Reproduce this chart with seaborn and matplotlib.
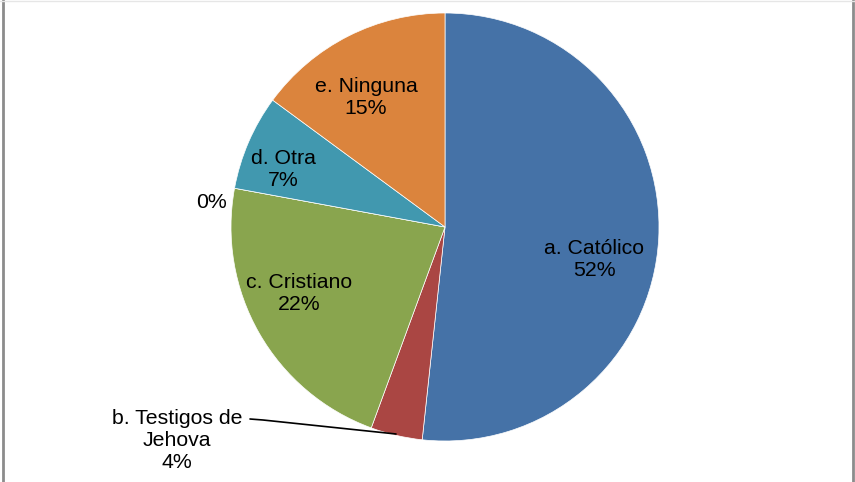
import matplotlib
matplotlib.use("Agg")
import matplotlib.pyplot as plt
import seaborn as sns

sns.set_theme(style="white")
plt.rcParams['font.family'] = ['Liberation Sans', 'DejaVu Sans']

categories = ["a. Católico", "b. Testigos de\nJehova", "c. Cristiano", "", "d. Otra", "e. Ninguna"]
values = [51.7, 3.9, 22.3, 0, 7.2, 14.9]
pct_labels = ["52%", "4%", "22%", "0%", "7%", "15%"]
colors = ["#4572A7", "#AA4643", "#89A54E", "#7F6084", "#4198AF", "#DB843D"]

W, H = 855, 482
fig = plt.figure(figsize=(W / 100, H / 100), dpi=100)
ax = fig.add_axes([0, 0, 1, 1])

cx, cy, r = 445, 227, 214
# y axis inverted -> counterclockwise in data space equals clockwise on screen
ax.pie(values, colors=colors, startangle=-90, counterclock=True,
       center=(cx, cy), radius=r, frame=True,
       wedgeprops=dict(edgecolor="white", linewidth=0.5))
ax.set_xlim(0, W)
ax.set_ylim(H, 0)
ax.set_aspect("equal")
ax.axis("off")

fs = 15.3
label_pos = [(594, 259), (177, 441), (299, 294), (211, 203), (283, 170), (366, 98)]
for cat, pct, (x, y) in zip(categories, pct_labels, label_pos):
    txt = f"{cat}\n{pct}" if cat else pct
    ax.text(x, y, txt, ha="center", va="center", fontsize=fs,
            color="black", linespacing=1.2)

ax.plot([250, 263, 396], [419, 420, 434], color="black", linewidth=1.2)

# frame
ax.plot([2.5, 2.5], [0, H], color="#8c8c8c", linewidth=2)
ax.plot([852.5, 852.5], [0, H], color="#8c8c8c", linewidth=2)
ax.plot([0, W], [0.5, 0.5], color="#e6e6e6", linewidth=1)

fig.savefig("out.png", dpi=100)
